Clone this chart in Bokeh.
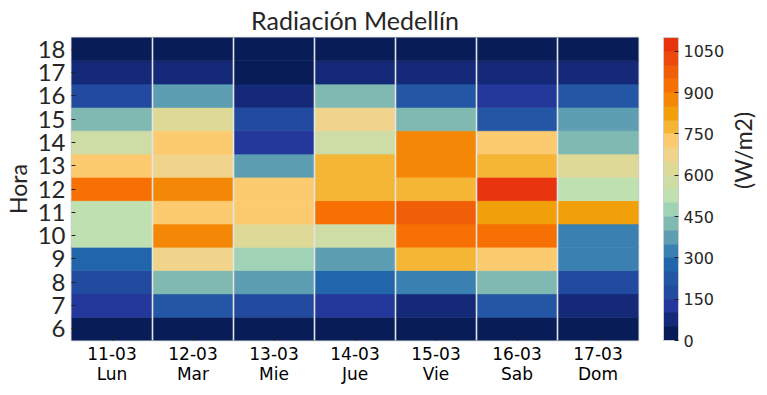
import math
from bokeh.plotting import figure
from bokeh.models import (ColumnDataSource, LinearColorMapper, ColorBar, FixedTicker,
                          LinearAxis, Range1d)
from bokeh.transform import transform
from bokeh.embed import file_html
from bokeh.resources import INLINE

# ---- data ----
dates = ["11-03", "12-03", "13-03", "14-03", "15-03", "16-03", "17-03"]
days = ["Lun", "Mar", "Mie", "Jue", "Vie", "Sab", "Dom"]
hours = [6, 7, 8, 9, 10, 11, 12, 13, 14, 15, 16, 17, 18]

lun = [12, 128, 172, 268, 520, 535, 930, 722, 585, 430, 180, 85, 20]
mar = [14, 215, 425, 680, 880, 735, 870, 690, 738, 615, 370, 90, 18]
mie = [10, 165, 372, 478, 620, 728, 742, 380, 125, 182, 70, 30, 8]
jue = [12, 118, 270, 365, 580, 915, 785, 770, 575, 672, 420, 78, 15]
vie = [15, 92, 330, 770, 925, 960, 790, 865, 880, 440, 222, 66, 12]
sab = [13, 210, 418, 735, 910, 825, 1080, 775, 730, 230, 140, 82, 16]
dom = [11, 88, 190, 335, 340, 830, 540, 610, 415, 360, 215, 75, 14]

cbar_ticks = [0, 150, 300, 450, 600, 750, 900, 1050]
vmin, vmax = 0, 1100

palette = ["#081d58", "#142a78", "#24379a", "#224a9f", "#2356a4", "#2166ab",
           "#3a80b0", "#5d9eb2", "#80b9b2", "#a0d3b6", "#bfe0b1", "#cedca6",
           "#dfd998", "#f0d48c", "#fdcb6f", "#f5b636", "#f2a00a", "#f48806",
           "#f77004", "#f15e08", "#ec4a0d", "#e8340f"]

series = [lun, mar, mie, jue, vie, sab, dom]
xs, ys, vals = [], [], []
for i, s in enumerate(series):
    for h, v in zip(hours, s):
        xs.append(i + 0.5)
        ys.append(h)
        vals.append(v)
src = ColumnDataSource(dict(x=xs, y=ys, v=vals))

mapper = LinearColorMapper(palette=palette, low=vmin, high=vmax)

y_lo, y_hi = hours[0] - 0.5, hours[-1] + 0.5

TXT = "#262626"
p = figure(frame_width=567, frame_height=303, output_backend="svg", toolbar_location=None,
           x_range=Range1d(0, len(days)),
           y_range=Range1d(y_lo, y_hi),
           min_border_left=65, min_border_right=119, min_border_top=29,
           min_border_bottom=44, title="Radiación Medellín")
p.title.text_font = "Lato"
p.title.text_font_size = "25px"
p.title.text_font_style = "normal"
p.title.text_color = TXT
p.title.align = "center"
p.title.standoff = 5

p.rect(x="x", y="y", width=1, height=1, source=src,
       fill_color=transform("v", mapper), line_color=transform("v", mapper),
       line_width=0.6)

p.outline_line_color = "#cccccc"
p.outline_line_width = 1.5
p.background_fill_color = "white"

# grid: vertical separators on top
p.ygrid.visible = False
p.xgrid.ticker = FixedTicker(ticks=list(range(1, len(days))))
p.xgrid.grid_line_color = "#e4e4e4"
p.xgrid.grid_line_width = 1.6
p.xgrid.level = "overlay"

# x axis
p.xaxis.ticker = FixedTicker(ticks=[i + 0.5 for i in range(len(days))])
p.xaxis.major_label_overrides = {i + 0.5: f"{d}\n{w}" for i, (d, w) in enumerate(zip(dates, days))}
p.xaxis.major_label_text_font = "DejaVu Sans"
p.xaxis.major_label_text_font_size = "17px"
p.xaxis.major_label_text_color = "black"
p.xaxis.major_label_text_line_height = 1.0
p.xaxis.major_label_standoff = 3
p.xaxis.major_tick_in = 4
p.xaxis.major_tick_out = 0
p.xaxis.minor_tick_in = 0
p.xaxis.minor_tick_out = 0
p.xaxis.major_tick_line_color = "#222222"
p.xaxis.minor_tick_line_color = None
p.xaxis.axis_line_color = None

# y axis
p.yaxis.ticker = FixedTicker(ticks=hours)
p.yaxis.major_label_text_font = "Lato"
p.yaxis.major_label_text_font_size = "24px"
p.yaxis.major_label_text_color = TXT
p.yaxis.major_label_standoff = 6
p.yaxis.major_tick_in = 4
p.yaxis.major_tick_out = 0
p.yaxis.minor_tick_in = 0
p.yaxis.minor_tick_out = 0
p.yaxis.major_tick_line_color = "#222222"
p.yaxis.minor_tick_line_color = None
p.yaxis.axis_line_color = None
p.yaxis.axis_label = "Hora"
p.yaxis.axis_label_text_font = "Lato"
p.yaxis.axis_label_text_font_size = "23px"
p.yaxis.axis_label_text_font_style = "normal"
p.yaxis.axis_label_text_color = TXT
p.yaxis.axis_label_standoff = 3

cb = ColorBar(color_mapper=mapper, ticker=FixedTicker(ticks=cbar_ticks),
              width=15, height=303, padding=0, margin=0, location=(25, 0),
              major_tick_in=4, major_tick_out=0,
              major_tick_line_color="#222222",
              bar_line_color="#cccccc", bar_line_width=1,
              label_standoff=5,
              major_label_text_font="DejaVu Sans",
              major_label_text_font_size="16px",
              major_label_text_color=TXT,
              border_line_color=None, background_fill_color=None)
p.add_layout(cb, "right")

# unit label of the colour bar: an otherwise empty axis on the right.
# Its label starts at the middle of the axis bounds, so the bounds are
# shortened at the top to centre the text on the bar.
label_shift = 1.6  # in hours (~ half the label length)
unit_axis = LinearAxis(ticker=FixedTicker(ticks=[]), axis_label="(W/m2)",
                       bounds=(y_lo, y_hi - 2 * label_shift),
                       axis_line_color=None, major_tick_line_color=None,
                       minor_tick_line_color=None, major_tick_out=0, minor_tick_out=0,
                       major_tick_in=0, minor_tick_in=0,
                       major_label_text_font_size="0px", major_label_standoff=0,
                       axis_label_standoff=15,
                       axis_label_text_font="Lato", axis_label_text_font_size="23px",
                       axis_label_text_font_style="normal", axis_label_text_color=TXT,
                       axis_label_text_align="center")
if hasattr(unit_axis, "axis_label_orientation"):
    unit_axis.axis_label_orientation = math.pi / 2
p.add_layout(unit_axis, "right")

open("out.html", "w").write(file_html(p, INLINE))
